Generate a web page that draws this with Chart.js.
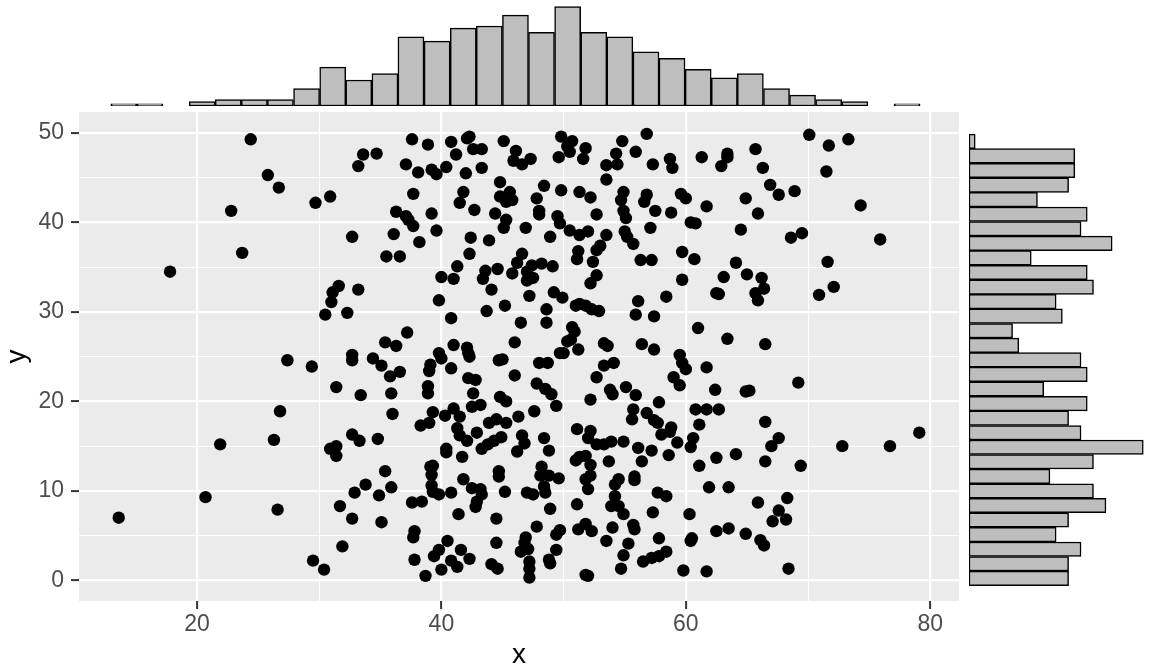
<!DOCTYPE html>
<html>
<head>
<meta charset="utf-8">
<script src="https://cdn.jsdelivr.net/npm/chart.js@4.4.1/dist/chart.umd.min.js"></script>
<style>
  html, body { margin: 0; padding: 0; background: #fff; }
  #wrap { position: relative; width: 1152px; height: 672px; }
  canvas { position: absolute; }
</style>
</head>
<body>
<div id="wrap">
  <canvas id="main" style="left:0;top:0" width="1152" height="672"></canvas>
  <canvas id="top" style="left:0;top:0" width="1152" height="108"></canvas>
  <canvas id="side" style="left:960px;top:0" width="192" height="672"></canvas>
</div>
<script>
// scatter points [x, y]
const points = [
  [24.4,49.3],[33.6,47.6],[33.2,46.3],[25.8,45.3],[26.7,43.9],[22.8,41.3],[29.7,42.2],[30.9,42.9],[32.7,38.4],[23.7,36.6],
  [17.8,34.5],[31.6,32.9],[31.1,32.2],[33.2,32.5],[31.0,31.1],[30.5,29.7],[32.3,29.9],
  [34.7,47.7],[37.6,49.3],[38.9,48.7],[40.8,49.0],[42.1,49.4],[42.3,49.6],[41.2,47.6],[42.6,48.2],[43.3,48.2],[45.1,49.1],
  [46.1,48.0],[45.9,46.9],[46.6,46.5],[47.3,47.1],[49.8,49.6],[50.7,49.1],[50.3,48.5],[50.5,47.9],[51.8,48.3],[51.6,47.1],
  [49.6,47.3],[54.8,49.1],[56.8,49.9],[55.9,47.9],[54.3,47.7],[53.5,46.4],[54.4,46.5],[57.3,46.5],[37.1,46.5],[38.1,45.6],
  [39.2,45.9],[39.6,45.4],[40.4,46.2],[42.0,45.5],[43.3,46.1],[44.8,44.5],[41.8,43.4],[41.5,42.2],[37.7,43.2],[45.2,42.8],
  [44.8,42.9],[45.6,43.4],[45.3,42.3],[45.8,42.5],[47.8,42.7],[48.4,44.1],[49.8,43.6],[51.3,43.4],[52.2,42.8],[53.5,44.8],
  [54.9,43.4],[54.7,42.5],[56.8,43.1],[56.6,42.3],[57.5,41.3],[54.9,41.3],[55.1,40.5],[52.7,40.9],[49.5,40.7],[49.7,39.9],
  [48.0,41.3],[48.0,40.9],[44.4,41.0],[45.3,40.3],[45.1,39.4],[46.9,39.4],[42.7,41.4],[39.2,41.0],[39.6,39.1],[36.3,41.2],
  [37.1,40.7],[37.3,40.3],[37.7,39.6],[36.1,38.7],[38.2,37.8],[35.5,36.2],[36.6,36.2],[42.4,38.3],[43.9,38.0],[42.3,36.5],
  [46.6,36.5],[46.2,35.5],[45.8,34.3],[47.4,35.2],[47.0,34.5],[48.2,35.4],[49.1,35.1],[47.5,33.8],[47.0,33.5],[44.6,34.8],
  [43.6,34.6],[43.4,33.7],[44.1,32.5],[41.3,35.1],[41.0,33.7],[40.0,33.9],[39.8,31.3],[40.8,29.3],[43.7,30.1],[45.2,30.7],
  [47.2,31.8],[48.6,30.3],[48.6,28.8],[46.5,28.8],[49.2,32.2],[49.9,31.6],[50.5,39.1],[51.3,38.6],[52.0,39.0],[48.9,38.4],
  [51.2,36.8],[51.1,35.9],[52.4,35.6],[52.7,36.9],[53.0,37.4],[53.5,38.6],[55.0,39.0],[55.2,38.4],[55.7,37.6],[57.1,39.4],
  [56.3,35.8],[57.2,35.8],[52.7,34.1],[52.2,33.2],[51.3,30.9],[51.8,30.7],[52.3,30.3],[52.9,30.1],[51.0,30.7],[56.1,31.2],
  [55.9,29.7],[57.4,29.5],[50.7,28.3],[50.9,27.8],[37.2,27.7],[35.4,26.6],[36.3,26.2],[46.0,26.6],[50.3,26.7],[50.6,26.9],
  [53.3,26.5],[53.6,26.2],[56.4,26.4],[57.4,25.8],[51.2,25.8],[41.0,26.3],[42.1,26.0],
  [58.7,47.1],[58.9,46.1],[61.3,47.3],[63.4,47.7],[63.4,47.3],[62.9,46.3],[65.7,48.2],[66.3,46.1],[70.1,49.8],[71.7,48.6],
  [73.3,49.3],[71.5,45.7],[66.9,44.2],[67.6,43.1],[68.9,43.5],[59.6,43.2],[60.0,42.7],[61.7,41.8],[64.9,42.7],[65.9,41.0],
  [58.8,41.1],[60.4,40.0],[60.8,39.9],[64.5,39.2],[68.6,38.3],[69.5,38.8],[74.3,41.9],[75.9,38.1],[59.7,36.7],[60.7,35.9],
  [64.1,35.5],[71.6,35.6],[59.7,33.6],[63.1,33.9],[65.0,34.2],[66.2,33.8],[66.4,32.6],[65.7,32.1],[65.9,31.3],[62.5,32.1],
  [62.7,32.0],[58.4,31.7],[70.9,31.9],[72.1,32.8],[61.0,28.2],[63.4,27.0],[66.5,26.4],
  [27.4,24.6],[29.4,23.9],[32.7,25.2],[32.7,24.6],[31.4,21.6],[33.4,20.7],[26.8,18.9],[26.3,15.7],[21.9,15.2],[32.7,16.3],
  [33.3,15.6],[30.9,14.7],[31.4,15.0],[31.4,13.9],[33.8,10.7],[32.9,9.8],[20.7,9.3],[26.6,7.9],[13.6,7.0],[31.7,8.3],
  [32.7,6.9],[31.9,3.8],[29.5,2.2],[30.4,1.2],
  [34.4,24.8],[35.1,24.0],[35.8,22.8],[36.6,23.3],[35.9,20.9],[36.0,18.6],[34.8,15.8],
  [39.1,24.1],[39.0,23.4],[39.8,25.4],[40.0,24.8],[40.8,23.7],[42.2,25.4],[42.3,25.0],
  [38.9,21.7],[38.9,20.9],[42.2,22.6],[42.8,22.4],[42.6,20.9],[42.5,19.4],[43.2,19.6],
  [44.7,24.6],[45.0,24.7],[46.0,22.9],[44.8,20.5],[45.3,20.0],[48.0,24.3],[48.7,24.3],
  [49.7,25.4],[50.0,25.4],[47.8,22.0],[48.5,21.4],[49.0,20.8],[49.4,19.5],[47.6,18.9],
  [46.3,18.3],[38.3,17.3],[39.0,17.6],[39.3,18.8],[40.3,18.4],[41.0,19.2],[41.5,18.3],
  [41.3,17.0],[41.5,16.2],[42.1,15.6],[42.9,16.5],[43.9,17.6],[44.5,18.0],[45.3,17.6],
  [44.9,16.0],[44.3,15.6],[43.8,15.2],[43.3,14.7],[46.6,16.2],[46.8,15.3],[46.2,14.4],
  [48.4,15.9],[48.8,14.5],[40.4,14.7],[40.4,14.3],[41.7,13.8],[35.4,12.2],[35.9,10.4],
  [34.9,9.5],[35.1,6.5],[39.1,12.7],[39.3,12.8],[39.2,11.8],[39.2,10.6],[39.3,9.9],
  [39.8,9.6],[37.6,8.7],[38.4,8.8],[40.8,9.8],[41.8,11.3],[42.5,10.3],[43.2,10.2],
  [43.3,9.6],[42.9,8.8],[42.8,8.2],[41.4,7.4],[44.5,6.9],[45.2,9.9],[44.7,12.2],
  [44.7,11.6],[47.0,9.8],[47.5,9.6],[48.2,12.7],[48.1,11.7],[48.8,11.7],[49.6,11.4],
  [48.4,10.5],[48.5,9.8],[48.9,8.0],[47.8,6.0],[46.9,4.8],[46.8,4.2],[47.1,3.5],
  [46.5,3.2],[47.2,2.1],[47.2,1.3],[47.2,0.3],[48.9,1.9],[48.8,2.3],[49.4,3.4],
  [49.4,5.1],[49.7,5.6],[44.5,4.2],[44.1,1.8],[44.6,1.3],[42.3,2.4],[41.6,3.4],
  [40.8,2.2],[41.3,1.5],[40.0,1.2],[38.7,0.5],[39.4,2.7],[39.8,3.4],[40.5,4.4],
  [37.8,2.3],[37.7,4.8],[37.8,5.5],
  [52.2,20.2],[52.7,22.7],[53.3,24.0],[54.1,24.3],[53.8,21.3],[54.0,20.8],[55.1,21.6],
  [55.9,20.7],[57.8,19.9],[55.7,19.1],[55.6,18.0],[56.8,18.7],[57.4,17.9],[57.7,17.6],
  [51.1,16.9],[52.2,16.7],[52.0,15.9],[52.7,15.2],[53.3,15.2],[53.9,15.5],[54.9,15.5],
  [56.1,14.8],[57.2,14.5],[56.4,13.3],[51.3,13.8],[51.8,13.9],[52.2,12.9],[53.7,13.3],
  [51.0,13.4],[51.8,11.3],[52.2,11.7],[52.0,10.2],[54.5,11.3],[54.2,10.7],[55.8,11.6],
  [55.8,11.2],[54.2,9.4],[53.9,8.3],[54.5,8.3],[54.9,7.4],[51.1,8.5],[57.7,9.8],
  [57.3,7.6],[51.2,5.7],[51.8,6.3],[52.3,5.5],[54.0,5.9],[55.7,6.2],[55.8,5.7],
  [53.5,4.4],[55.3,4.1],[54.9,2.8],[54.7,1.3],[51.8,0.6],[52.0,0.5],[57.8,4.7],
  [56.5,2.1],[57.2,2.5],[57.8,2.7],
  [59.5,25.2],[59.7,24.3],[60.0,23.6],[59.0,22.7],[59.5,21.8],[61.7,23.8],[62.4,21.3],[64.9,21.1],[65.2,21.2],[69.2,22.1],
  [60.8,19.1],[61.7,19.1],[62.7,19.1],[61.1,17.4],[58.8,17.1],[58.7,16.6],[58.0,16.3],[59.3,15.4],[60.6,15.9],[60.4,14.9],
  [58.6,14.0],[61.1,12.8],[62.5,13.7],[64.1,14.1],[66.5,17.7],[67.6,15.9],[67.0,15.0],[66.5,13.3],[69.4,12.8],[72.8,15.0],
  [76.7,15.0],[79.1,16.5],[58.4,9.4],[61.9,10.4],[63.5,10.4],[60.3,7.4],[65.9,8.7],[68.3,9.2],[67.6,7.8],[67.1,6.6],
  [68.2,6.8],[62.5,5.5],[63.5,5.8],[64.9,5.2],[66.1,4.5],[66.4,3.9],[60.4,4.4],[60.5,4.7],[58.4,3.2],[59.8,1.1],
  [61.7,1.0],[68.4,1.3]
];

// top marginal histogram (x), bin middles and counts
const topMid = [14.02, 16.15, 18.29, 20.43, 22.56, 24.70, 26.83, 28.97, 31.11, 33.24, 35.38, 37.51, 39.65, 41.79, 43.92,
  46.06, 48.19, 50.33, 52.47, 54.60, 56.74, 58.87, 61.01, 63.15, 65.28, 67.42, 69.55, 71.69, 73.83, 75.96, 78.10];
const topCounts = [1, 1, 0, 2, 3, 3, 3, 8, 18, 12, 15, 32, 30, 36, 37, 42, 34, 46, 34, 32, 25, 22, 17, 13, 15, 8, 5, 3, 2, 0, 1];

// right marginal histogram (y), bottom to top
const sideMid = [0.22, 1.85, 3.48, 5.11, 6.74, 8.36, 9.99, 11.62, 13.25, 14.88, 16.50, 18.13, 19.76, 21.39, 23.02, 24.64,
  26.27, 27.90, 29.53, 31.16, 32.78, 34.41, 36.04, 37.67, 39.30, 40.92, 42.55, 44.18, 45.81, 47.44, 49.06];
const sideCounts = [16, 16, 18, 14, 16, 22, 20, 13, 20, 28, 18, 16, 19, 12, 19, 18, 8, 7, 15, 14, 20, 19, 10, 23, 18, 19,
  11, 16, 17, 17, 1];

const xGrid = [20, 30, 40, 50, 60, 70, 80];
const xLabels = [20, 40, 60, 80];
const yGrid = [0, 5, 10, 15, 20, 25, 30, 35, 40, 45, 50];
const yLabels = [0, 10, 20, 30, 40, 50];

const xRange = [10.35, 82.35];
const yRange = [-2.31, 52.35];

Chart.defaults.font.family = '"Liberation Sans", Arial, sans-serif';

const panelBg = {
  id: 'panelBg',
  beforeDraw(chart) {
    const a = chart.chartArea;
    const c = chart.ctx;
    c.save();
    c.fillStyle = '#EBEBEB';
    c.fillRect(a.left, a.top, a.right - a.left, a.bottom - a.top);
    c.restore();
  }
};

function axisGrid(labels) {
  return {
    color: '#FFFFFF',
    lineWidth: ctx => labels.includes(ctx.tick.value) ? 2.2 : 1.1,
    drawTicks: true,
    tickLength: 8,
    tickWidth: 2,
    tickColor: ctx => labels.includes(ctx.tick.value) ? '#333333' : 'rgba(0,0,0,0)'
  };
}

new Chart(document.getElementById('main'), {
  type: 'scatter',
  data: {
    datasets: [{
      data: points.map(p => ({ x: p[0], y: p[1] })),
      backgroundColor: '#000000',
      borderWidth: 0,
      pointRadius: 6.2,
      pointHoverRadius: 6.2
    }]
  },
  options: {
    responsive: false,
    animation: false,
    events: [],
    layout: { padding: { top: 112, right: 193, left: 0, bottom: 0 } },
    plugins: { legend: { display: false }, tooltip: { enabled: false } },
    scales: {
      x: {
        type: 'linear',
        min: xRange[0],
        max: xRange[1],
        afterBuildTicks: s => { s.ticks = xGrid.map(v => ({ value: v })); },
        afterFit: s => { s.height = 71; },
        border: { display: false },
        grid: axisGrid(xLabels),
        ticks: {
          color: '#4D4D4D',
          font: { size: 23 },
          padding: 2,
          maxRotation: 0,
          autoSkip: false,
          callback: v => xLabels.includes(v) ? String(v) : ''
        },
        title: { display: true, text: 'x', color: '#000000', font: { size: 28 }, padding: { top: 0, bottom: 0 } }
      },
      y: {
        type: 'linear',
        min: yRange[0],
        max: yRange[1],
        afterBuildTicks: s => { s.ticks = yGrid.map(v => ({ value: v })); },
        afterFit: s => { s.width = 79; },
        border: { display: false },
        grid: axisGrid(yLabels),
        ticks: {
          color: '#4D4D4D',
          font: { size: 23 },
          padding: 7,
          autoSkip: false,
          callback: v => yLabels.includes(v) ? String(v) : ''
        },
        title: { display: true, text: 'y', color: '#000000', font: { size: 28 }, padding: { top: 0, bottom: 0 } }
      }
    }
  },
  plugins: [panelBg]
});

const barStyle = {
  backgroundColor: '#BEBEBE',
  borderColor: '#000000',
  borderWidth: 1.5,
  borderSkipped: false,
  barPercentage: 1,
  categoryPercentage: 1
};

new Chart(document.getElementById('top'), {
  type: 'bar',
  data: {
    datasets: [Object.assign({ data: topMid.map((m, i) => ({ x: m, y: topCounts[i] })) }, barStyle)]
  },
  options: {
    responsive: false,
    animation: false,
    events: [],
    layout: { padding: { left: 79, right: 193, top: 0, bottom: 2 } },
    plugins: { legend: { display: false }, tooltip: { enabled: false } },
    scales: {
      x: { type: 'linear', min: xRange[0], max: xRange[1], offset: false, display: false },
      y: { min: 0, max: 49, display: false }
    }
  }
});

new Chart(document.getElementById('side'), {
  type: 'bar',
  data: {
    datasets: [Object.assign({ data: sideMid.map((m, i) => ({ y: m, x: sideCounts[i] })) }, barStyle)]
  },
  options: {
    indexAxis: 'y',
    responsive: false,
    animation: false,
    events: [],
    layout: { padding: { left: 9, right: 0, top: 112, bottom: 71 } },
    plugins: { legend: { display: false }, tooltip: { enabled: false } },
    scales: {
      y: { type: 'linear', min: yRange[0], max: yRange[1], offset: false, display: false },
      x: { min: 0, max: 29.4, display: false }
    }
  }
});
</script>
</body>
</html>
